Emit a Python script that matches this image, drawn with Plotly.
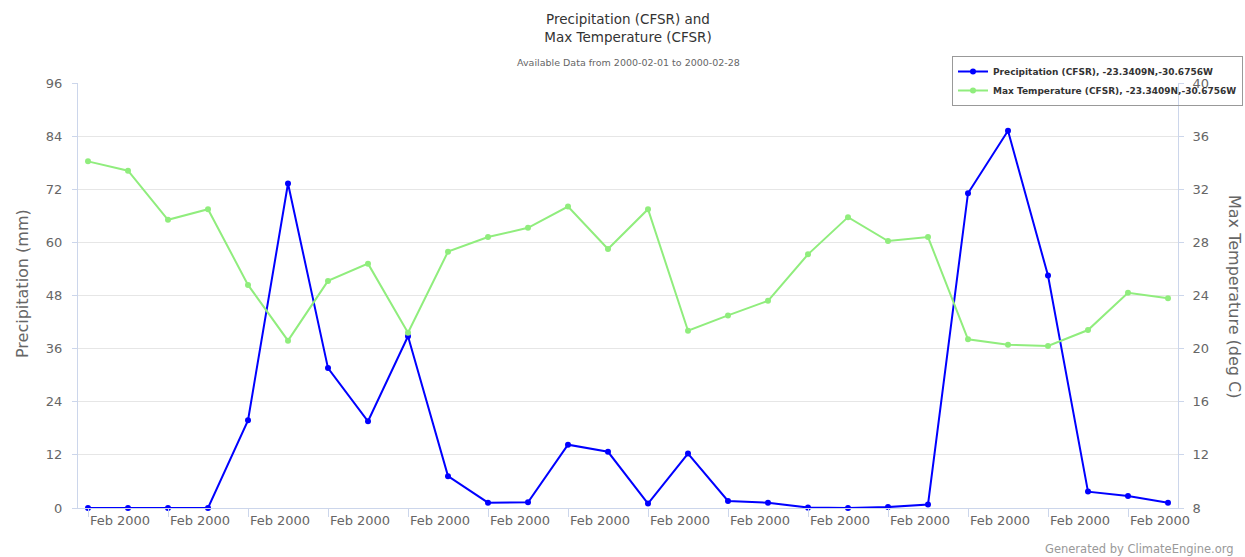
import plotly.graph_objects as go

dates = [f"2000-02-{d:02d}" for d in range(1, 29)]

precip_mm = [0, 0, 0, 0, 19.8, 73.3, 31.6, 19.6, 38.8, 7.2, 1.2, 1.3, 14.3, 12.7, 1.0, 12.3,
             1.6, 1.2, 0.1, 0.0, 0.2, 0.8, 71.1, 85.2, 52.5, 3.7, 2.7, 1.2]
tmax_c = [34.1, 33.4, 29.7, 30.5, 24.8, 20.6, 25.1, 26.4, 21.2, 27.3, 28.4, 29.1, 30.7, 27.5,
          30.5, 21.35, 22.5, 23.6, 27.1, 29.9, 28.1, 28.4, 20.7, 20.3, 20.2, 21.4, 24.2, 23.8]

precip_name = "Precipitation (CFSR), -23.3409N,-30.6756W"
tmax_name = "Max Temperature (CFSR), -23.3409N,-30.6756W"

FONT = "DejaVu Sans"
AXIS_LINE = "#ccd6eb"
GRID = "#e6e6e6"
LABEL = "#666666"

W, H = 1245, 557
L, R, T, B = 78, 1178, 83, 508  # plot area in pixels


def px_x(x):
    return (x - L) / (R - L)


def px_y(y):
    return (B - y) / (B - T)


fig = go.Figure()
fig.add_trace(go.Scatter(
    x=dates, y=precip_mm, name=precip_name, mode="lines+markers",
    line=dict(color="#0000ff", width=2), marker=dict(size=6, color="#0000ff"),
    cliponaxis=False, yaxis="y"))
fig.add_trace(go.Scatter(
    x=dates, y=tmax_c, name=tmax_name, mode="lines+markers",
    line=dict(color="#90ed7d", width=2), marker=dict(size=6, color="#90ed7d"),
    cliponaxis=False, yaxis="y2"))

fig.update_layout(
    width=W, height=H,
    margin=dict(l=L, r=W - R, t=T, b=H - B, autoexpand=False),
    paper_bgcolor="white", plot_bgcolor="white",
    font=dict(family=FONT, color=LABEL),
    hovermode=False,
    title=dict(text="Precipitation (CFSR) and<br>Max Temperature (CFSR)",
               x=(L + (R - L) / 2) / W, xanchor="center",
               y=1 - 24 / H, yanchor="top", yref="container",
               font=dict(family=FONT, size=13.5, color="#333333")),
    xaxis=dict(
        type="date", automargin=False,
        range=["2000-01-31 18:00", "2000-02-28 06:00"],
        tick0="2000-02-01", dtick=2 * 86400000, tickformat="%b %Y",
        ticks="outside", ticklen=8, tickcolor=AXIS_LINE, tickwidth=1,
        showline=True, linecolor=AXIS_LINE, linewidth=1,
        showgrid=False, zeroline=False,
        ticklabelshift=32, ticklabelstandoff=-8,
        tickfont=dict(family=FONT, size=13, color=LABEL)),
    yaxis=dict(
        range=[0, 96], dtick=12, tick0=0, automargin=False,
        showgrid=True, gridcolor=GRID, gridwidth=1, zeroline=False,
        showline=True, linecolor=AXIS_LINE, linewidth=1,
        ticks="outside", ticklen=5, tickcolor=AXIS_LINE,
        ticklabelstandoff=7,
        tickfont=dict(family=FONT, size=13, color=LABEL)),
    yaxis2=dict(
        range=[8, 40], dtick=4, tick0=8, automargin=False,
        overlaying="y", side="right",
        showgrid=False, zeroline=False,
        showline=True, linecolor=AXIS_LINE, linewidth=1,
        ticks="outside", ticklen=5, tickcolor=AXIS_LINE,
        ticklabelstandoff=6,
        tickfont=dict(family=FONT, size=13, color=LABEL)),
    legend=dict(
        xref="container", x=1243 / W, xanchor="right",
        yref="container", y=1 - 56 / H, yanchor="top",
        bgcolor="rgba(255,255,255,0)", bordercolor="#999999", borderwidth=1,
        font=dict(family=FONT, size=9, color="#333333", weight="bold"),
        itemwidth=30, tracegroupgap=0),
    annotations=[
        dict(text="Available Data from 2000-02-01 to 2000-02-28",
             xref="paper", yref="paper",
             x=0.5, y=px_y(62), xanchor="center", yanchor="middle",
             showarrow=False, font=dict(family=FONT, size=9.5, color=LABEL)),
        dict(text="Generated by ClimateEngine.org",
             xref="paper", yref="paper",
             x=px_x(1236), y=px_y(549), xanchor="right", yanchor="middle",
             showarrow=False, font=dict(family=FONT, size=11.5, color="#999999")),
        dict(text="Precipitation (mm)", textangle=-90,
             xref="paper", yref="paper",
             x=px_x(22), y=px_y(284), xanchor="center", yanchor="middle",
             showarrow=False, font=dict(family=FONT, size=16, color=LABEL)),
        dict(text="Max Temperature (deg C)", textangle=90,
             xref="paper", yref="paper",
             x=px_x(1235), y=px_y(297), xanchor="center", yanchor="middle",
             showarrow=False, font=dict(family=FONT, size=16, color=LABEL)),
    ],
)

fig.write_html("out.html", config={"displayModeBar": False},
               post_script="document.body.style.margin='0';")
